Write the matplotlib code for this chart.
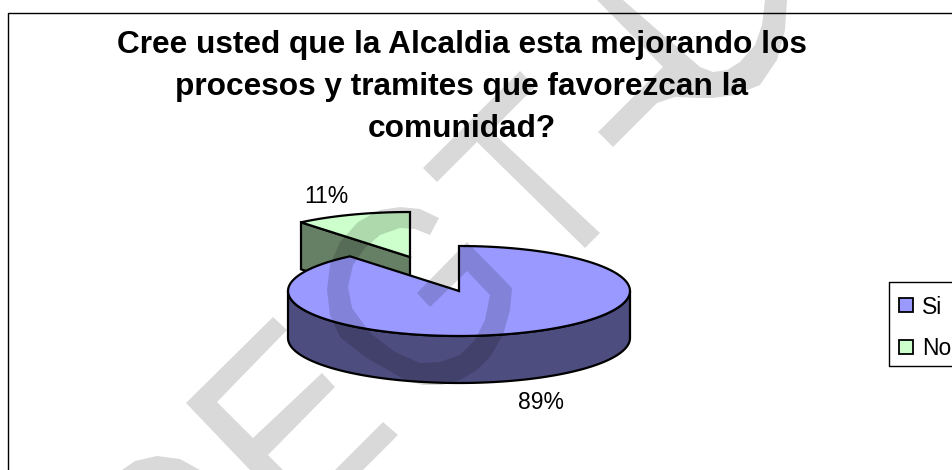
import numpy as np
import matplotlib
matplotlib.use("Agg")
import matplotlib.pyplot as plt
from matplotlib.patches import Polygon, Rectangle

# data
categories = ["Si", "No"]
values = [89, 11]
pct_labels = ["89%", "11%"]
title_lines = [
    "Cree usted que la Alcaldia esta mejorando los",
    "procesos y tramites que favorezcan la",
    "comunidad?",
]

# colours
top_colors = ["#9999FF", "#CCFFCC"]
side_colors = ["#4D4D80", "#668066"]

# pie geometry, in pixels of the picture
CX, CY = 459, 291
RX, RY = 171, 45
DEPTH = 47
EXPLODE = (-49, -34)
LW = 1.6

# grey diagonal stamp that lies over the whole picture
stamp_shapes = [
    [(597, 0), (663, 67), (598, 132), (613, 147), (657, 103), (675, 97), (700, 98), (713, 98),
     (735, 95), (760, 85), (777, 60), (785, 30), (787, 0), (765, 0), (762, 25), (755, 45),
     (740, 62), (727, 70), (713, 72), (700, 67), (623, 0)],
    [(423, 168), (520, 71), (535, 87), (491, 131), (600, 233), (585, 248), (477, 142), (437, 182)],
    [(417, 293), (467, 242), (512, 288), (510, 310), (503, 335), (490, 357), (477, 370), (460, 380),
     (442, 385), (423, 385), (407, 381), (393, 373), (365, 357), (340, 337), (330, 315), (327, 290),
     (330, 265), (340, 242), (358, 222), (380, 210), (400, 207), (420, 209), (439, 218), (430, 235),
     (415, 229), (400, 228), (380, 235), (365, 248), (353, 265), (348, 287), (352, 308), (370, 333),
     (395, 352), (420, 363), (440, 362), (460, 355), (475, 340), (485, 320), (490, 295), (467, 271),
     (430, 307)],
    [(273, 317), (287, 330), (217, 402), (253, 438), (322, 373), (335, 387), (268, 455), (283, 470),
     (250, 470), (186, 403)],
    [(383, 422), (398, 435), (363, 470), (335, 470)],
    [(122, 470), (135, 461), (157, 456), (180, 459), (200, 470)],
]


def ellipse_pts(t0, t1, dx=0, dy=0):
    # angle t runs clockwise from the top of the pie, in degrees
    t = np.radians(np.linspace(t0, t1, 120))
    return np.column_stack([CX + dx + RX * np.sin(t), CY + dy - RY * np.cos(t)])


plt.rcParams["font.family"] = ["Liberation Sans", "DejaVu Sans"]

fig = plt.figure(figsize=(9.53, 4.7), dpi=100)
ax = fig.add_axes([0, 0, 1, 1])
ax.set_xlim(0, 953)
ax.set_ylim(470, 0)
ax.axis("off")

# chart frame, runs off the right and bottom of the picture
ax.plot([8, 8, 953], [470, 13, 13], color="black", lw=1.0, zorder=1)

si_end = 360 * values[0] / sum(values)
dx, dy = EXPLODE

# exploded slice: cut face first, the big slice then covers its lower part
apex = np.array([CX + dx, CY + dy])
no_arc = ellipse_pts(si_end, 360, dx, dy)
left_pt = no_arc[0]
face = [left_pt, apex, apex + [0, DEPTH], left_pt + [0, DEPTH]]
ax.add_patch(Polygon(face, closed=True, fc=side_colors[1], ec="black", lw=LW, zorder=2))
ax.add_patch(Polygon(np.vstack([[apex], no_arc]), closed=True, fc=top_colors[1], ec="black",
                     lw=LW, zorder=3))

# big slice: rim then top
front = ellipse_pts(90, 270)
rim = np.vstack([front, (front + [0, DEPTH])[::-1]])
ax.add_patch(Polygon(rim, closed=True, fc=side_colors[0], ec="black", lw=LW, zorder=4))
si_arc = ellipse_pts(0, si_end)
ax.add_patch(Polygon(np.vstack([[(CX, CY)], si_arc]), closed=True, fc=top_colors[0], ec="black",
                     lw=LW, zorder=5))

# labels
ax.text(541, 409, pct_labels[0], ha="center", va="baseline", fontsize=16.5, color="black", zorder=6)
ax.text(326, 203, pct_labels[1], ha="center", va="baseline", fontsize=16.5, color="black", zorder=6)

# title
for line, y in zip(title_lines, [53, 95, 137]):
    ax.text(462, y, line, ha="center", va="baseline", fontsize=22.8, fontweight="bold",
            color="black", zorder=6)

# legend, cut by the right edge like the original
ax.plot([953, 889, 889, 953], [282, 282, 366, 366], color="black", lw=1.0, zorder=6)
for name, col, y, base in zip(categories, top_colors, [298, 340], [314, 355]):
    ax.add_patch(Rectangle((899, y), 14, 14, fc=col, ec="black", lw=1.3, zorder=6))
    ax.text(922, base, name, ha="left", va="baseline", fontsize=16.5, color="black", zorder=6)

for shape in stamp_shapes:
    ax.add_patch(Polygon(shape, closed=True, fc="black", ec="none", alpha=0.15, zorder=7))

fig.savefig("out.png", dpi=100, facecolor="white")
